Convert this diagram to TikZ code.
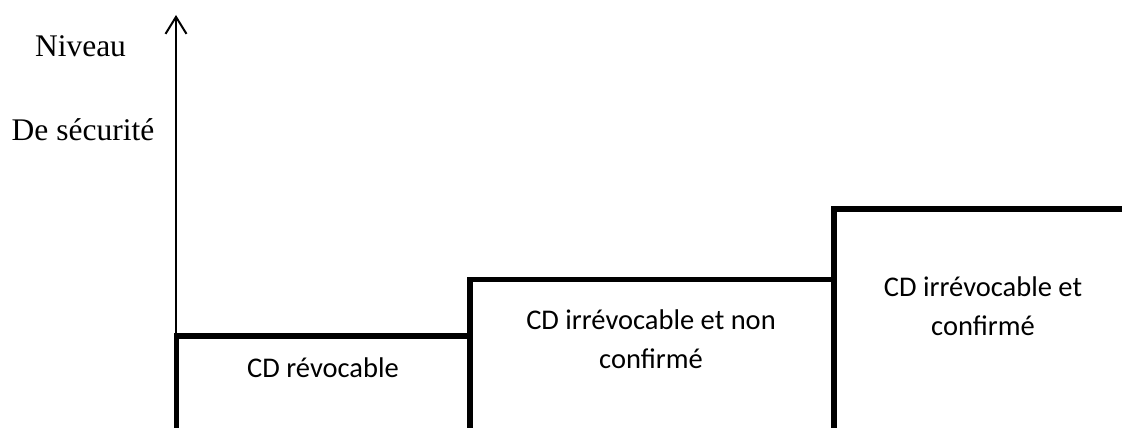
\documentclass[tikz,border=0pt]{standalone}
\usepackage{fontspec}
\setmainfont{Liberation Serif}
\newfontfamily\calibrifont{Carlito}
\usetikzlibrary{arrows.meta}

\tikzset{
  axisline/.style={line width=2pt, -{Straight Barb[length=17pt, width=21pt, line width=2pt]}},
  levelline/.style={line width=5.5pt, line join=miter},
  axislabel/.style={font=\fontsize{31.5}{38}\selectfont, inner sep=0pt, anchor=base},
  levellabel/.style={font=\calibrifont\fontsize{28.5}{39}\selectfont, inner sep=0pt, align=center, anchor=base}
}

\begin{document}
\begin{tikzpicture}[x=1pt, y=-1pt]
  \useasboundingbox (0,0) rectangle (1122,428);

  % vertical axis
  \coordinate (o) at (176,428);
  \coordinate (top) at (176,15);
  \draw[axisline] (o) -- (top);

  \node[axislabel] (niveau) at (80.5,57) {Niveau};
  \node[axislabel] (securite) at (83,140) {De sécurité};

  % staircase of security levels
  \coordinate (s0) at (176.5,428);
  \coordinate (s1) at (176.5,336);
  \coordinate (s2) at (470,336);
  \coordinate (s3) at (470,279.5);
  \coordinate (s4) at (834,279.5);
  \coordinate (s5) at (834,209);
  \coordinate (s6) at (1122,209);
  \coordinate (b2) at (470,428);
  \coordinate (b4) at (834,428);
  \draw[levelline] (s0) -- (s1) -- (s2) -- (s3) -- (s4) -- (s5) -- (s6);
  \draw[levelline] (b2) -- (s2);
  \draw[levelline] (b4) -- (s4);

  % labels; the base anchor of a two-line label sits on its last line
  \node[levellabel] (revocable) at (323,377) {CD révocable};
  \node[levellabel] (nonconf) at (651,368) {CD irrévocable et non\\confirmé};
  \node[levellabel] (conf) at (983,335) {CD irrévocable et\\confirmé};
\end{tikzpicture}
\end{document}
